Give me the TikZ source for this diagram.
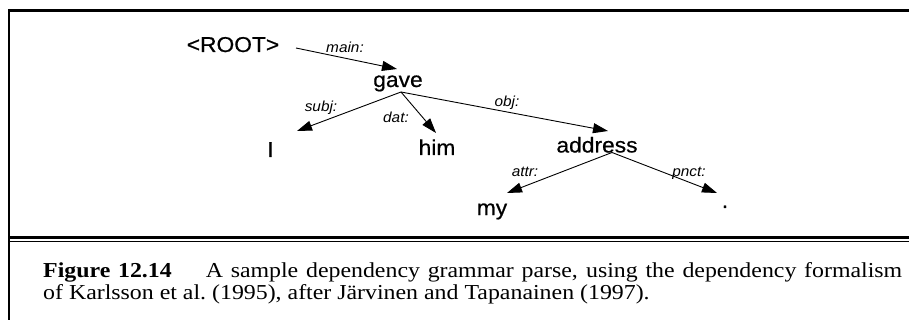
\documentclass[tikz,border=0pt]{standalone}
\usepackage{fontspec}
\setmainfont[FakeStretch=1.12]{Liberation Serif}
\newfontfamily\treefont[FakeStretch=1.06,FakeBold=0.6]{Liberation Sans}
\newfontfamily\labelfont[FakeStretch=1.06]{Liberation Sans}
\usetikzlibrary{arrows.meta,calc}
\begin{document}
\begin{tikzpicture}[x=1pt,y=-1pt,
  word/.style={inner sep=0pt, anchor=base, font=\treefont\fontsize{21.5}{24}\selectfont},
  lab/.style={inner sep=0pt, anchor=base, font=\labelfont\itshape\fontsize{14.5}{16}\selectfont},
  dep/.style={line width=0.9pt, -{Triangle[length=15pt,width=10pt]}},
  captext/.style={inner sep=0pt, anchor=base west, font=\fontsize{21.3}{23}\selectfont}]
\useasboundingbox (0,0) rectangle (909,320);
% frame
\draw[line width=3pt] (8,10.5) -- (909,10.5);
\draw[line width=2pt] (9,9) -- (9,320);
\draw[line width=2.7pt] (8,237.3) -- (909,237.3);
\draw[line width=1.6pt] (8,241.5) -- (909,241.5);
% words
\node[word] (root) at (233,52) {<ROOT>};
\node[word] (gave) at (398,87) {gave};
\node[word] (I) at (270.5,157) {I};
\node[word] (him) at (437,155) {him};
\node[word] (address) at (597,152.5) {address};
\node[word] (my) at (492,215) {my};
\node[word] (dot) at (725,208) {.};
% dependencies
\draw[dep] ($(root.base)+(63,-4)$) -- ($(gave.base)+(-1,-18)$);
\draw[dep] ($(gave.base)+(3,5)$) -- ($(I.base)+(26.5,-26)$);
\draw[dep] ($(gave.base)+(3,5)$) -- ($(him.base)+(-1,-22)$);
\draw[dep] ($(gave.base)+(3,5)$) -- ($(address.base)+(11,-21.5)$);
\draw[dep] ($(address.base)+(15,0)$) -- ($(my.base)+(15,-22)$);
\draw[dep] ($(address.base)+(15,0)$) -- ($(dot.base)+(-8,-15)$);
% labels
\node[lab] (lmain) at (345,53) {main:};
\node[lab] (lsubj) at (321,112) {subj:};
\node[lab] (ldat) at (396,123) {dat:};
\node[lab] (lobj) at (507,107) {obj:};
\node[lab] (lattr) at (525,177) {attr:};
\node[lab] (lpnct) at (689,177) {pnct:};
% caption
\node[captext] (cap1) at (43,277) {\makebox[859pt][s]{\textbf{Figure 12.14}\hspace{34pt}A sample dependency grammar parse, using the dependency formalism}};
\node[captext] (cap2) at (43,299) {of Karlsson et al.\ (1995), after Järvinen and Tapanainen (1997).};
\end{tikzpicture}
\end{document}
